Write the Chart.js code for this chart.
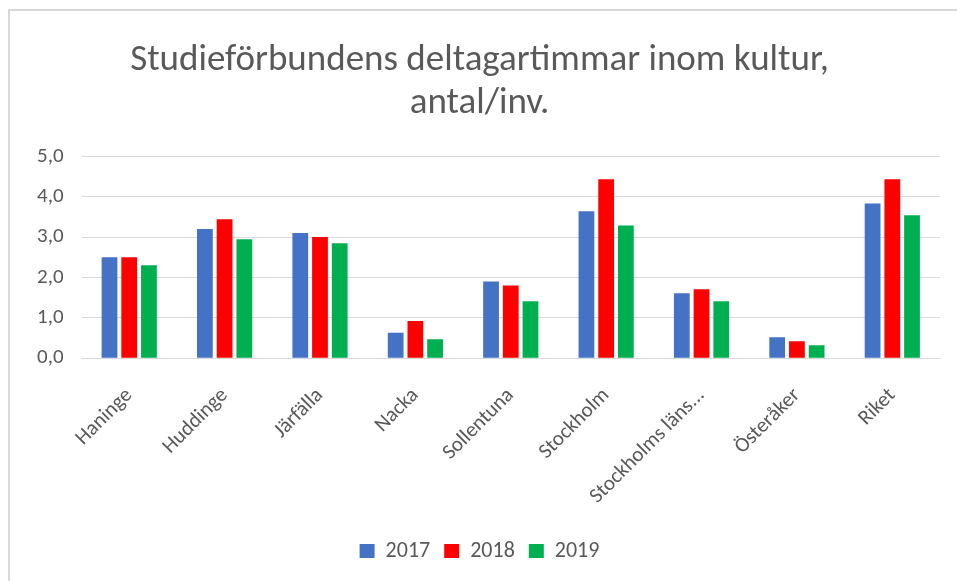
<!DOCTYPE html>
<html lang="sv">
<head>
  <meta charset="UTF-8">
  <title>Studieförbundens deltagartimmar inom kultur</title>
  <style>
    body { margin: 0; background: #fff; }
    #wrap {
      position: absolute; left: 8px; top: 9px;
      width: 949px; height: 572px;
      border-top: 2px solid #d9d9d9;
      border-left: 2px solid #d9d9d9;
    }
  </style>
</head>
<body>
  <div id="wrap"><canvas id="chart" width="947" height="570"></canvas></div>

  <script src="https://cdn.jsdelivr.net/npm/chart.js"></script>
  <script>
    const kommuner = ['Haninge','Huddinge','Järfälla','Nacka','Sollentuna','Stockholm','Stockholms läns...','Österåker','Riket'];
    const v2017 = [2.5, 3.2, 3.1, 0.63, 1.9, 3.64, 1.61, 0.52, 3.83];
    const v2018 = [2.5, 3.44, 3.0, 0.92, 1.8, 4.43, 1.71, 0.42, 4.43];
    const v2019 = [2.3, 2.95, 2.85, 0.47, 1.41, 3.29, 1.41, 0.32, 3.54];
    const yTicks = [0, 1, 2, 3, 4, 5];

    const grey = '#595959';
    const font = 'Carlito, "Liberation Sans Narrow", "Open Sans", sans-serif';

    new Chart(document.getElementById('chart'), {
      type: 'bar',
      data: {
        labels: kommuner,
        datasets: [
          { label: '2017', data: v2017, backgroundColor: '#4472C4' },
          { label: '2018', data: v2018, backgroundColor: '#FF0000' },
          { label: '2019', data: v2019, backgroundColor: '#00B050' }
        ]
      },
      options: {
        responsive: false,
        animation: false,
        layout: { padding: { left: 9, right: 17, top: 29, bottom: 9 } },
        datasets: { bar: { categoryPercentage: 0.62, barPercentage: 0.8 } },
        plugins: {
          title: {
            display: true,
            text: ['Studieförbundens deltagartimmar inom kultur,', 'antal/inv.'],
            color: grey,
            font: { family: font, size: 37, weight: 'normal', lineHeight: 1.14 },
            padding: { top: 0, bottom: 32 }
          },
          legend: {
            position: 'bottom',
            labels: {
              color: grey,
              font: { family: font, size: 22 },
              boxWidth: 15, boxHeight: 14,
              padding: 14
            }
          },
          tooltip: { enabled: false }
        },
        scales: {
          x: {
            grid: { display: false },
            border: { color: '#d9d9d9' },
            ticks: {
              color: grey,
              font: { family: font, size: 21 },
              minRotation: 45, maxRotation: 45,
              padding: 17
            }
          },
          y: {
            min: 0, max: 5,
            afterBuildTicks: ax => { ax.ticks = yTicks.map(v => ({ value: v })); },
            grid: { color: '#d9d9d9', lineWidth: 1, drawTicks: false },
            border: { display: false },
            ticks: {
              color: grey,
              font: { family: font, size: 21 },
              padding: 18,
              callback: v => v.toFixed(1).replace('.', ',')
            }
          }
        }
      }
    });
  </script>
</body>
</html>
